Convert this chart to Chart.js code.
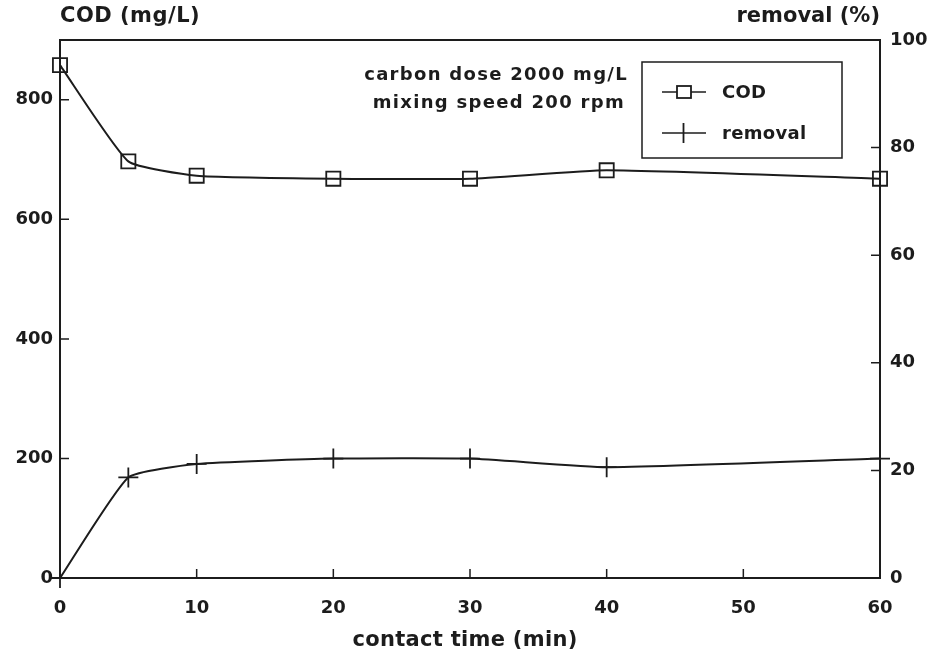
<!DOCTYPE html>
<html>
<head>
<meta charset="utf-8">
<script src="https://cdn.jsdelivr.net/npm/chart.js@4/dist/chart.umd.min.js"></script>
<style>
  html, body { margin: 0; padding: 0; background: #fff; }
  #wrap { width: 937px; height: 661px; }
</style>
</head>
<body>
<div id="wrap"><canvas id="c" width="937" height="661"></canvas></div>
<script>
// ---- data ----
const contactTime = [0, 5, 10, 20, 30, 40, 60];
const codValues = [858, 697, 673, 668, 668, 682, 668];
const removalValues = [0, 18.7, 21.2, 22.2, 22.2, 20.6, 22.2];
const xTicks = [0, 10, 20, 30, 40, 50, 60];
const codTicks = [0, 200, 400, 600, 800];
const removalTicks = [0, 20, 40, 60, 80, 100];
const seriesNames = ['COD', 'removal'];
const leftTitle = 'COD (mg/L)';
const rightTitle = 'removal (%)';
const xTitle = 'contact time (min)';
const notes = ['carbon dose 2000 mg/L', 'mixing speed 200 rpm'];

const INK = '#1c1c1c';
const FONT = '"DejaVu Sans", "Liberation Sans", Arial, sans-serif';

const overlay = {
  id: 'overlay',
  afterDraw(chart) {
    const ctx = chart.ctx;
    const a = chart.chartArea;
    const sx = chart.scales.x, sy = chart.scales.y, sy1 = chart.scales.y1;
    ctx.save();
    // frame
    ctx.strokeStyle = INK;
    ctx.lineWidth = 2;
    ctx.strokeRect(a.left, a.top, a.right - a.left, a.bottom - a.top);
    // inward ticks
    ctx.lineWidth = 1.5;
    ctx.beginPath();
    xTicks.forEach(v => { const p = sx.getPixelForValue(v); ctx.moveTo(p, a.bottom); ctx.lineTo(p, a.bottom - 9); });
    codTicks.forEach(v => { const p = sy.getPixelForValue(v); ctx.moveTo(a.left, p); ctx.lineTo(a.left + 9, p); });
    removalTicks.forEach(v => { const p = sy1.getPixelForValue(v); ctx.moveTo(a.right, p); ctx.lineTo(a.right - 9, p); });
    ctx.stroke();
    // titles
    ctx.fillStyle = INK;
    ctx.font = 'bold 21px ' + FONT;
    ctx.letterSpacing = '0.5px';
    ctx.textBaseline = 'middle';
    ctx.textAlign = 'left';
    ctx.fillText(leftTitle, a.left, 17);
    ctx.textAlign = 'right';
    ctx.letterSpacing = '0px';
    ctx.fillText(rightTitle, a.right, 17);
    ctx.letterSpacing = '0.3px';
    ctx.textAlign = 'center';
    ctx.fillText(xTitle, 465, 641);
    // notes
    ctx.font = 'bold 18px ' + FONT;
    ctx.letterSpacing = '1.3px';
    ctx.textAlign = 'right';
    ctx.fillText(notes[0], 628, 75);
    ctx.fillText(notes[1], 625, 103);
    ctx.letterSpacing = '0px';
    // legend box
    const lx = 642, ly = 62, lw = 200, lh = 96;
    ctx.lineWidth = 1.5;
    ctx.strokeRect(lx, ly, lw, lh);
    const rows = [92, 133];
    chart.data.datasets.forEach((ds, i) => {
      const y = rows[i];
      ctx.strokeStyle = INK;
      ctx.lineWidth = 1.5;
      ctx.beginPath();
      ctx.moveTo(662, y); ctx.lineTo(706, y);
      ctx.stroke();
      if (ds.pointStyle === 'rect') {
        ctx.fillStyle = '#fff';
        ctx.fillRect(677, y - 6, 14, 12);
        ctx.lineWidth = 1.8;
        ctx.strokeRect(677, y - 6, 14, 12);
      } else {
        ctx.lineWidth = 1.8;
        ctx.beginPath();
        ctx.moveTo(683.5, y - 10); ctx.lineTo(683.5, y + 10);
        ctx.stroke();
      }
      ctx.fillStyle = INK;
      ctx.font = 'bold 18px ' + FONT;
      ctx.letterSpacing = '0.3px';
      ctx.textAlign = 'left';
      ctx.fillText(ds.label, 722, y + 1);
      ctx.letterSpacing = '0px';
    });
    ctx.restore();
  }
};

const tickFont = { family: FONT, size: 18, weight: 'bold' };

new Chart(document.getElementById('c'), {
  type: 'line',
  data: {
    datasets: [
      {
        label: seriesNames[0],
        data: contactTime.map((t, i) => ({ x: t, y: codValues[i] })),
        yAxisID: 'y',
        borderColor: INK,
        borderWidth: 2,
        pointStyle: 'rect',
        pointRadius: 10,
        pointBackgroundColor: 'rgba(255,255,255,0)',
        pointBorderColor: INK,
        pointBorderWidth: 1.8,
        tension: 0.15,
        clip: false
      },
      {
        label: seriesNames[1],
        data: contactTime.map((t, i) => ({ x: t, y: removalValues[i] })),
        yAxisID: 'y1',
        borderColor: INK,
        borderWidth: 2,
        pointStyle: 'cross',
        pointRadius: 10,
        pointBorderColor: INK,
        pointBorderWidth: 1.8,
        tension: 0.15,
        clip: false
      }
    ]
  },
  options: {
    responsive: false,
    animation: false,
    events: [],
    layout: { padding: { top: 40, left: 0, right: 0, bottom: 0 } },
    plugins: { legend: { display: false }, tooltip: { enabled: false }, title: { display: false } },
    scales: {
      x: {
        type: 'linear',
        min: 0, max: 60,
        grid: { display: false, drawTicks: false },
        border: { display: false },
        afterBuildTicks: s => { s.ticks = xTicks.map(v => ({ value: v })); },
        afterFit: s => { s.height = 83; },
        ticks: { color: INK, font: tickFont, padding: 20, maxRotation: 0 }
      },
      y: {
        type: 'linear',
        position: 'left',
        min: 0, max: 900,
        grid: { display: false, drawTicks: false },
        border: { display: false },
        afterBuildTicks: s => { s.ticks = codTicks.map(v => ({ value: v })); },
        afterFit: s => { s.width = 60; },
        ticks: { color: INK, font: tickFont, padding: 7 }
      },
      y1: {
        type: 'linear',
        position: 'right',
        min: 0, max: 100,
        grid: { display: false, drawTicks: false },
        border: { display: false },
        afterBuildTicks: s => { s.ticks = removalTicks.map(v => ({ value: v })); },
        afterFit: s => { s.width = 57; },
        ticks: { color: INK, font: tickFont, padding: 10 }
      }
    }
  },
  plugins: [overlay]
});
</script>
</body>
</html>
